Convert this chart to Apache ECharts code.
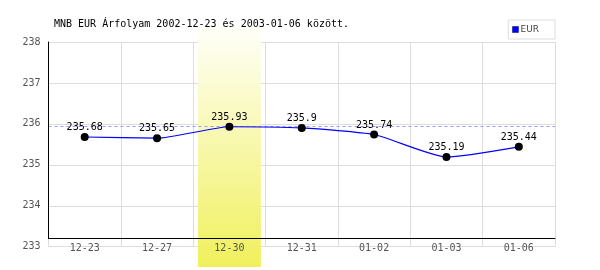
<!DOCTYPE html>
<html>
<head>
<meta charset="utf-8">
<script src="https://cdn.jsdelivr.net/npm/echarts@6/dist/echarts.min.js"></script>
<style>html,body{margin:0;padding:0;background:#fff}#c{width:600px;height:270px}</style>
</head>
<body>
<div id="c"></div>
<script>
var categories = ['12-23','12-27','12-30','12-31','01-02','01-03','01-06'];
var eurValues = [235.68, 235.65, 235.93, 235.9, 235.74, 235.19, 235.44];
var highlightDay = '12-30';
var yTicks = {min: 233, max: 238, interval: 1};
var titleText = 'MNB EUR Árfolyam 2002-12-23 és 2003-01-06 között.';

var mono = 'DejaVu Sans Mono';
var bandData = categories.map(function (c) { return c === highlightDay ? 1 : null; });

var chart = echarts.init(document.getElementById('c'), null, {renderer: 'canvas'});
chart.setOption({
  animation: false,
  backgroundColor: '#fff',
  title: {
    text: titleText, left: 54, top: 19, padding: 0,
    textStyle: {fontFamily: mono, fontSize: 10, fontWeight: 'normal', color: '#000'}
  },
  legend: {
    right: 45, top: 20, padding: [5, 16, 5, 4], itemWidth: 6, itemHeight: 6, itemGap: 0,
    borderColor: '#dddddd', borderWidth: 1, backgroundColor: '#fff',
    textStyle: {fontFamily: 'DejaVu Sans', fontSize: 9, color: '#444', padding: [0, 0, 0, -3]},
    data: [{name: 'EUR', icon: 'rect', itemStyle: {color: '#0000ff', borderColor: '#000066', borderWidth: 0.5}}]
  },
  grid: [
    {left: 48.5, right: 45, top: 42, bottom: 23.3},
    {left: 48.5, right: 45, top: 42, bottom: 31.7},
    {left: 48.5, right: 45, top: 26, bottom: 3}
  ],
  xAxis: [
    {gridIndex: 0, type: 'category', data: categories, boundaryGap: true, z: 0,
     axisLine: {show: false}, axisTick: {show: false}, axisLabel: {show: false},
     splitLine: {show: true, interval: 0, lineStyle: {color: '#dddddd', width: 1}}},
    {gridIndex: 1, type: 'category', data: categories, boundaryGap: true, z: 5,
     axisLine: {show: true, lineStyle: {color: '#000', width: 1}}, axisTick: {show: false},
     axisLabel: {show: true, interval: 0, margin: 5, color: '#555', fontFamily: mono, fontSize: 10},
     splitLine: {show: false}},
    {gridIndex: 2, type: 'category', data: categories, boundaryGap: true, show: false}
  ],
  yAxis: [
    {gridIndex: 0, type: 'value', min: yTicks.min, max: yTicks.max, interval: yTicks.interval, z: 0,
     axisLine: {show: false}, axisTick: {show: false},
     axisLabel: {margin: 8, color: '#555', fontFamily: mono, fontSize: 10},
     splitLine: {show: true, lineStyle: {color: '#dddddd', width: 1}}},
    {gridIndex: 1, type: 'value', z: 5,
     axisLine: {show: true, lineStyle: {color: '#000', width: 1}}, axisTick: {show: false},
     axisLabel: {show: false}, splitLine: {show: false}},
    {gridIndex: 2, type: 'value', min: 0, max: 1, show: false}
  ],
  series: [
    {
      type: 'bar', xAxisIndex: 2, yAxisIndex: 2, data: bandData, barWidth: 63, z: 1,
      silent: true,
      itemStyle: {color: new echarts.graphic.LinearGradient(0, 0, 0, 1, [
        {offset: 0, color: '#fffffa'}, {offset: 1, color: '#f0f05c'}
      ])}
    },
    {
      name: 'EUR', type: 'line', xAxisIndex: 0, yAxisIndex: 0, data: eurValues, z: 6,
      smooth: 0.18, symbol: 'circle', symbolSize: 8,
      lineStyle: {color: '#0000ff', width: 1.2},
      itemStyle: {color: '#000'},
      label: {show: true, position: 'top', distance: 0.5, color: '#000', fontFamily: mono, fontSize: 10},
      markLine: {
        silent: true, symbol: 'none', label: {show: false},
        lineStyle: {color: '#9999ff', type: [3, 3], width: 1},
        data: [{type: 'max'}]
      }
    }
  ]
});
</script>
</body>
</html>
